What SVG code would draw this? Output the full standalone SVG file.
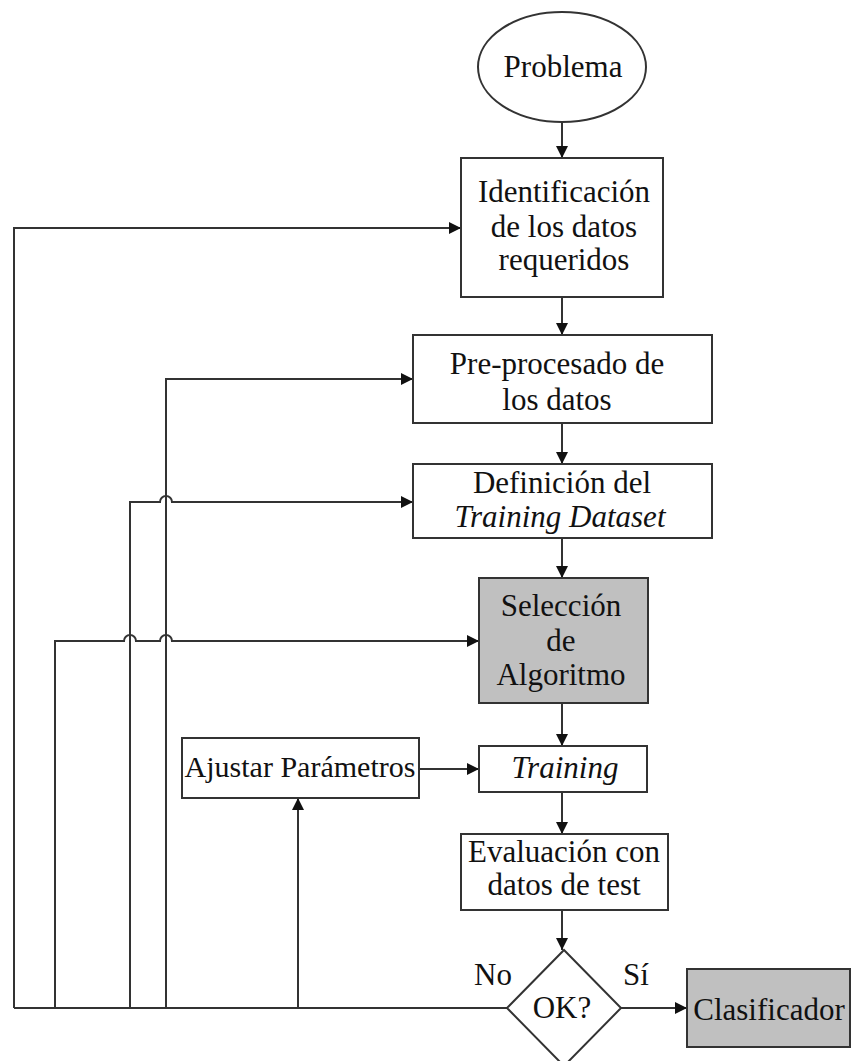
<svg xmlns="http://www.w3.org/2000/svg" width="857" height="1061" viewBox="0 0 857 1061">
<style>
  .box { fill: #ffffff; stroke: #333333; stroke-width: 2; }
  .gray { fill: #c0c0c0; stroke: #333333; stroke-width: 2; }
  .t { font-family: "Liberation Serif", "Times New Roman", serif; font-size: 31px; fill: #111111; text-anchor: middle; }
  .it { font-style: italic; }
  .c { fill: none; stroke: #333333; stroke-width: 2; }
  .ca { fill: none; stroke: #333333; stroke-width: 2; marker-end: url(#arr); }
</style>
<defs>
  <marker id="arr" markerUnits="userSpaceOnUse" markerWidth="13" markerHeight="12" refX="12" refY="6" orient="auto">
    <path d="M0,0 L12,6 L0,12 z" fill="#111111"/>
  </marker>
</defs>
<rect width="857" height="1061" fill="#ffffff"/>

<g id="connectors">
  <line class="ca" x1="562" y1="122" x2="562" y2="158"/>
  <line class="ca" x1="562" y1="297" x2="562" y2="335"/>
  <line class="ca" x1="562" y1="423" x2="562" y2="464"/>
  <line class="ca" x1="562" y1="538" x2="562" y2="578"/>
  <line class="ca" x1="562" y1="703" x2="562" y2="746"/>
  <line class="ca" x1="562" y1="792" x2="562" y2="834"/>
  <line class="ca" x1="562" y1="910" x2="562" y2="950"/>
  <line class="ca" x1="621" y1="1008" x2="687" y2="1008"/>
  <line class="ca" x1="419" y1="769" x2="479" y2="769"/>
  <line class="c" x1="507" y1="1008" x2="14" y2="1008"/>
  <path class="ca" d="M14,1008 L14,228 L461,228"/>
  <path class="ca" d="M166,1008 L166,379 L413,379"/>
  <path class="ca" d="M130,1008 L130,502 L160,502 A6,6 0 0 1 172,502 L413,502"/>
  <path class="ca" d="M55,1008 L55,641 L124,641 A6,6 0 0 1 136,641 L160,641 A6,6 0 0 1 172,641 L479,641"/>
  <line class="ca" x1="298" y1="1008" x2="298" y2="798"/>
</g>

<g id="problema">
  <ellipse class="box" cx="562" cy="67" rx="84" ry="55"/>
  <text class="t" x="563" y="77">Problema</text>
</g>

<g id="identificacion">
  <rect class="box" x="461" y="158" width="202" height="139"/>
  <text class="t" x="564" y="202">Identificación</text>
  <text class="t" x="564" y="237">de los datos</text>
  <text class="t" x="564" y="270">requeridos</text>
</g>

<g id="preprocesado">
  <rect class="box" x="413" y="335" width="299" height="88"/>
  <text class="t" x="557" y="374">Pre-procesado de</text>
  <text class="t" x="557" y="410">los datos</text>
</g>

<g id="definicion">
  <rect class="box" x="413" y="464" width="299" height="74"/>
  <text class="t" x="562" y="493">Definición del</text>
  <text class="t it" x="560" y="527">Training Dataset</text>
</g>

<g id="seleccion">
  <rect class="gray" x="479" y="578" width="169" height="125"/>
  <text class="t" x="561" y="616">Selección</text>
  <text class="t" x="561" y="651">de</text>
  <text class="t" x="561" y="685">Algoritmo</text>
</g>

<g id="ajustar">
  <rect class="box" x="182" y="738" width="237" height="60"/>
  <text class="t" x="300" y="777" style="font-size:30px">Ajustar Parámetros</text>
</g>

<g id="training">
  <rect class="box" x="479" y="746" width="168" height="46"/>
  <text class="t it" x="565" y="778">Training</text>
</g>

<g id="evaluacion">
  <rect class="box" x="461" y="834" width="207" height="76"/>
  <text class="t" x="564" y="862">Evaluación con</text>
  <text class="t" x="564" y="895">datos de test</text>
</g>

<g id="ok">
  <polygon class="box" points="564,950 621,1008 564,1066 507,1008"/>
  <text class="t" x="562" y="1018">OK?</text>
  <text class="t" x="493" y="985">No</text>
  <text class="t" x="636" y="985">Sí</text>
</g>

<g id="clasificador">
  <rect class="gray" x="687" y="969" width="163" height="78"/>
  <text class="t" x="769" y="1020">Clasificador</text>
</g>
</svg>
